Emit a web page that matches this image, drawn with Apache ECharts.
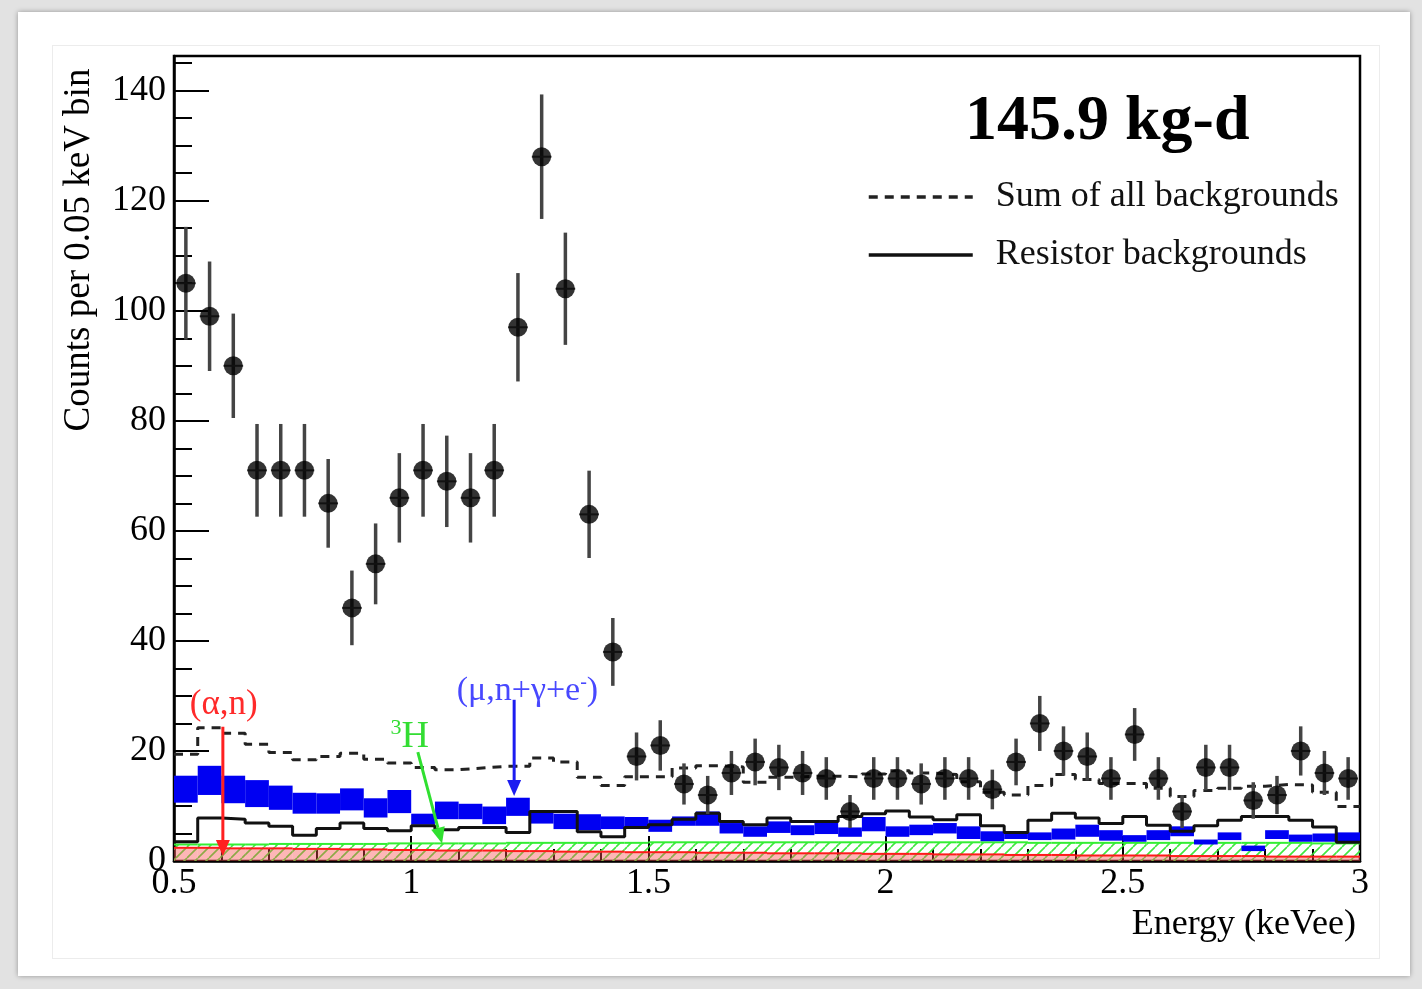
<!DOCTYPE html>
<html><head><meta charset="utf-8">
<script src="https://cdn.jsdelivr.net/npm/echarts@6/dist/echarts.min.js"></script>
<style>
html,body{margin:0;padding:0;width:1422px;height:989px;overflow:hidden;background:#e2e2e2;}
#panel{position:absolute;left:18px;top:12px;width:1392px;height:964px;background:#fff;box-shadow:0 0 5px rgba(0,0,0,0.35);}
#inner{position:absolute;left:52px;top:45px;width:1326px;height:912px;border:1px solid #ececec;}
#chart{position:absolute;left:0;top:0;width:1422px;height:989px;}
</style></head>
<body><div id="panel"></div><div id="inner"></div><div id="chart"></div>
<script>
// ---------------- data ----------------
const binCenters = [0.525,0.575,0.625,0.675,0.725,0.775,0.825,0.875,0.925,0.975,
  1.025,1.075,1.125,1.175,1.225,1.275,1.325,1.375,1.425,1.475,
  1.525,1.575,1.625,1.675,1.725,1.775,1.825,1.875,1.925,1.975,
  2.025,2.075,2.125,2.175,2.225,2.275,2.325,2.375,2.425,2.475,
  2.525,2.575,2.625,2.675,2.725,2.775,2.825,2.875,2.925,2.975];
const binHalfWidth = 0.025;
const counts = [105,99,90,71,71,71,65,46,54,66,
  71,69,66,71,97,128,104,63,38,19,
  21,14,12,16,18,17,16,15,9,15,
  15,14,15,15,13,18,25,20,19,15,
  23,15,9,17,17,11,12,20,16,15];
const sumBackgrounds = [19.4,24.2,23.2,21.2,19.7,18.4,19.0,19.6,18.5,17.8,
  17.0,16.6,16.9,17.2,17.2,18.7,18.0,15.2,13.7,15.3,
  15.3,16.9,17.3,17.1,14.3,15.2,15.4,15.4,15.3,15.8,
  16.4,16.0,15.7,14.4,12.5,12.0,13.7,15.7,14.8,14.1,
  14.1,13.2,11.7,12.8,13.2,13.6,13.9,13.8,12.5,9.9];
const resistorBackgrounds = [3.5,7.8,7.6,6.9,6.3,4.7,5.9,6.9,5.9,5.5,
  6.4,5.7,6.1,6.1,5.2,9.0,9.0,5.3,4.4,6.1,
  6.6,7.6,8.7,7.2,6.6,7.8,7.2,7.2,8.1,8.6,
  9.1,8.0,7.5,8.4,6.4,5.2,7.4,8.7,7.8,6.8,
  8.1,6.5,5.4,6.4,7.4,8.1,8.1,7.4,6.2,3.4];
const muonLow = [10.6,12.0,10.5,9.8,9.3,8.6,8.6,9.2,7.9,8.7,
  6.6,7.6,7.6,6.7,8.2,6.8,5.8,5.6,5.8,6.0,
  5.3,6.4,6.4,5.0,4.4,5.1,4.7,4.9,4.4,5.4,
  4.4,4.7,5.0,4.0,3.6,4.0,3.8,3.9,4.4,3.7,
  3.5,3.8,4.5,3.0,3.8,1.8,4.0,3.5,3.5,3.4];
const muonHigh = [15.5,17.3,15.5,14.7,13.7,12.4,12.3,13.2,11.4,12.9,
  8.6,10.8,10.4,9.9,11.5,9.0,8.6,8.5,8.1,8.0,
  7.5,8.1,9.0,6.9,6.3,7.2,6.5,7.0,6.1,8.0,
  6.3,6.6,6.9,6.3,5.4,5.1,5.2,5.9,6.6,5.6,
  4.7,5.6,6.3,3.9,5.2,2.8,5.6,4.8,5.0,5.2];
const tritium = [3.0,3.0,3.0,3.0,3.1,3.1,3.1,3.1,3.1,3.2,
  3.2,3.2,3.2,3.2,3.3,3.3,3.3,3.3,3.3,3.3,
  3.4,3.4,3.4,3.4,3.4,3.4,3.4,3.4,3.4,3.4,
  3.4,3.4,3.4,3.4,3.4,3.4,3.3,3.3,3.3,3.3,
  3.3,3.3,3.3,3.3,3.3,3.3,3.3,3.3,3.2,3.2];
const alphaN = [2.4,2.4,2.3,2.3,2.3,2.2,2.2,2.1,2.1,2.0,
  2.0,1.9,1.9,1.9,1.8,1.8,1.7,1.7,1.7,1.6,
  1.6,1.6,1.5,1.5,1.5,1.4,1.4,1.4,1.4,1.3,
  1.3,1.3,1.2,1.2,1.2,1.1,1.1,1.1,1.0,1.0,
  1.0,1.0,0.9,0.9,0.9,0.9,0.8,0.8,0.8,0.8];
const xTickLabels = {0.5:'0.5',1:'1',1.5:'1.5',2:'2',2.5:'2.5',3:'3'};
const yTickLabels = {0:'0',20:'20',40:'40',60:'60',80:'80',100:'100',120:'120',140:'140'};
// annotation arrows [x0,y0,x1,y1]
const arrowAlpha = [0.603,24.4,0.603,0.9];
const arrowTritium = [1.014,19.8,1.065,3.2];
const arrowMuon = [1.217,29.3,1.217,11.8];
// annotation label anchor [x,y]
const labelAlpha = [0.605,28.4];
const labelTritium = [0.997,22.5];
const labelMuon = [1.245,30.9];

// ---------------- styling helpers ----------------
const FONT = '"Liberation Serif","DejaVu Serif","Times New Roman",serif';
function hatch(color, bg, size, lw){
  const c = document.createElement('canvas'); c.width = size; c.height = size;
  const g = c.getContext('2d');
  if (bg){ g.fillStyle = bg; g.fillRect(0,0,size,size); }
  g.strokeStyle = color; g.lineWidth = lw; g.beginPath();
  for (let k=-1;k<=1;k++){ g.moveTo(k*size, size); g.lineTo(k*size+size, 0); }
  g.stroke(); return c;
}
const greenHatch = hatch('#3ee83e', null, 11, 1.6);

function stepPoints(vals){
  const pts = [];
  vals.forEach((v,i)=>{ pts.push([binCenters[i]-binHalfWidth, v]); pts.push([binCenters[i]+binHalfWidth, v]); });
  return pts;
}
function bandRender(fillFn, topColor){
  return function(params, api){
    const c = api.value(0), lo = api.value(1), hi = api.value(2);
    const p0 = api.coord([c-binHalfWidth, hi]);
    const p1 = api.coord([c+binHalfWidth, lo]);
    const children = [{type:'rect', shape:{x:p0[0], y:p0[1], width:p1[0]-p0[0], height:p1[1]-p0[1]}, style:fillFn()}];
    if (topColor) children.push({type:'line', shape:{x1:p0[0],y1:p0[1],x2:p1[0],y2:p0[1]}, style:{stroke:topColor, lineWidth:2}});
    return {type:'group', children};
  };
}
function arrowRender(color){
  return function(params, api){
    const p0 = api.coord([api.value(0), api.value(1)]);
    const p1 = api.coord([api.value(2), api.value(3)]);
    const dx = p1[0]-p0[0], dy = p1[1]-p0[1], L = Math.hypot(dx,dy);
    const ux = dx/L, uy = dy/L, hl = 16, hw = 7;
    const b = [p1[0]-ux*hl, p1[1]-uy*hl];
    return {type:'group', children:[
      {type:'line', shape:{x1:p0[0],y1:p0[1],x2:b[0],y2:b[1]}, style:{stroke:color, lineWidth:3}},
      {type:'polygon', shape:{points:[[p1[0],p1[1]],[b[0]-uy*hw,b[1]+ux*hw],[b[0]+uy*hw,b[1]-ux*hw]]}, style:{fill:color}}
    ]};
  };
}
function labelRender(text, rich){
  return function(params, api){
    const p = api.coord([api.value(0), api.value(1)]);
    return {type:'text', x:p[0], y:p[1], style:{text, rich, align:'center', verticalAlign:'middle'}};
  };
}

const binIdx = binCenters.map((c,i)=>i);
const chart = echarts.init(document.getElementById('chart'), null, {renderer:'canvas'});
const option = {
  animation:false,
  backgroundColor:'transparent',
  title:{text:'145.9 kg-d', left:960, top:85, textStyle:{fontFamily:FONT, fontWeight:'bold', fontSize:64, color:'#000'}},
  legend:{orient:'vertical', left:862, top:174, itemWidth:104, itemHeight:20, itemGap:22,
    itemStyle:{opacity:0}, lineStyle:{width:3.5},
    textStyle:{fontFamily:FONT, fontSize:36, color:'#111', padding:[0,0,0,18]},
    data:['Sum of all backgrounds','Resistor backgrounds'], selectedMode:false},
  grid:{left:174, right:62, top:56, bottom:128, show:true, borderColor:'#000', borderWidth:2.5, backgroundColor:'transparent'},
  xAxis:[
    {type:'value', min:0.5, max:3, interval:0.5,
     axisLine:{show:true, onZero:false, lineStyle:{color:'#000', width:2.5}},
     axisTick:{inside:true, length:25, lineStyle:{color:'#000', width:2}},
     axisLabel:{fontFamily:FONT, fontSize:36, color:'#000', margin:5, formatter:v=>xTickLabels[v] ?? ''},
     splitLine:{show:false}},
    {type:'value', min:0.5, max:3, interval:0.1, position:'bottom',
     axisLine:{show:false}, axisTick:{inside:true, length:12, lineStyle:{color:'#000', width:2}},
     axisLabel:{show:false}, splitLine:{show:false}}
  ],
  yAxis:[
    {type:'value', min:0, max:146.3, interval:20,
     axisLine:{show:true, onZero:false, lineStyle:{color:'#000', width:2.5}},
     axisTick:{inside:true, length:35, lineStyle:{color:'#000', width:2}},
     axisLabel:{fontFamily:FONT, fontSize:36, color:'#000', margin:8, padding:[6,0,0,0], formatter:v=>yTickLabels[v] ?? ''},
     splitLine:{show:false}},
    {type:'value', min:0, max:146.3, interval:5, position:'left',
     axisLine:{show:false}, axisTick:{inside:true, length:18, lineStyle:{color:'#000', width:2}},
     axisLabel:{show:false}, splitLine:{show:false}}
  ],
  graphic:[
    {type:'text', x:79, y:250, rotation:Math.PI/2, style:{text:'Counts per 0.05 keV bin', font:'37px '+FONT, fill:'#000', align:'center', verticalAlign:'middle'}},
    {type:'text', x:1356, y:925, style:{text:'Energy (keVee)', font:'36px '+FONT, fill:'#000', align:'right', verticalAlign:'middle'}}
  ],
  series:[
    {name:'3H', type:'custom', z:1, silent:true, data:binIdx.map(i=>[binCenters[i],0,tritium[i]]),
     renderItem:bandRender(()=>({fill:{image:greenHatch, repeat:'repeat'}}), '#33ee33')},
    {name:'(alpha,n)', type:'custom', z:2, silent:true, data:binIdx.map(i=>[binCenters[i],0,alphaN[i]]),
     renderItem:bandRender(()=>({fill:'rgba(250,80,80,0.42)'}), '#ff1a1a')},
    {name:'muon', type:'custom', z:3, silent:true, data:binIdx.map(i=>[binCenters[i],muonLow[i],muonHigh[i]]),
     renderItem:bandRender(()=>({fill:'#0000f2'}), null)},
    {name:'Resistor backgrounds', type:'line', z:4, silent:true, symbol:'none', data:stepPoints(resistorBackgrounds),
     lineStyle:{color:'#111', width:3}, itemStyle:{color:'#111'}},
    {name:'Sum of all backgrounds', type:'line', z:5, silent:true, symbol:'none', data:stepPoints(sumBackgrounds),
     lineStyle:{color:'#222', width:3, type:[9,7]}, itemStyle:{color:'#222'}},
    {name:'arrowAlpha', type:'custom', z:6, silent:true, data:[arrowAlpha], renderItem:arrowRender('#ff2020')},
    {name:'arrowTritium', type:'custom', z:6, silent:true, data:[arrowTritium], renderItem:arrowRender('#30e030')},
    {name:'arrowMuon', type:'custom', z:6, silent:true, data:[arrowMuon], renderItem:arrowRender('#1c1cf0')},
    {name:'errors', type:'custom', z:7, silent:true, data:binIdx.map(i=>[binCenters[i],counts[i]]),
     renderItem:function(params, api){
       const c = api.value(0), n = api.value(1), e = Math.sqrt(n);
       const a = api.coord([c, n+e]), b = api.coord([c, n-e]);
       const l = api.coord([c-binHalfWidth, n]), r = api.coord([c+binHalfWidth, n]);
       return {type:'group', children:[
         {type:'line', shape:{x1:a[0],y1:a[1],x2:b[0],y2:b[1]}, style:{stroke:'#444', lineWidth:3.5}},
         {type:'line', shape:{x1:l[0]+2,y1:l[1],x2:r[0]-2,y2:r[1]}, style:{stroke:'#555', lineWidth:2}}
       ]};
     }},
    {name:'data', type:'scatter', z:8, silent:true, symbol:'circle', symbolSize:19,
     data:binIdx.map(i=>[binCenters[i],counts[i]]), itemStyle:{color:'#000'}},
    {name:'labelAlpha', type:'custom', z:9, silent:true, data:[labelAlpha],
     renderItem:labelRender('{a|(α,n)}', {a:{fontFamily:FONT, fontSize:35, fill:'#ff2a2a'}})},
    {name:'labelTritium', type:'custom', z:9, silent:true, data:[labelTritium],
     renderItem:labelRender('{s|3}{a|H}', {a:{fontFamily:FONT, fontSize:38, fill:'#33dd33'}, s:{fontFamily:FONT, fontSize:22, fill:'#33dd33', verticalAlign:'top', padding:[0,0,18,0]}})},
    {name:'labelMuon', type:'custom', z:9, silent:true, data:[labelMuon],
     renderItem:labelRender('{a|(μ,n+γ+e}{s|-}{a|)}', {a:{fontFamily:FONT, fontSize:34, fill:'#4848ff'}, s:{fontFamily:FONT, fontSize:20, fill:'#4848ff', padding:[0,0,16,0]}})}
  ]
};
chart.setOption(option);
</script></body></html>
